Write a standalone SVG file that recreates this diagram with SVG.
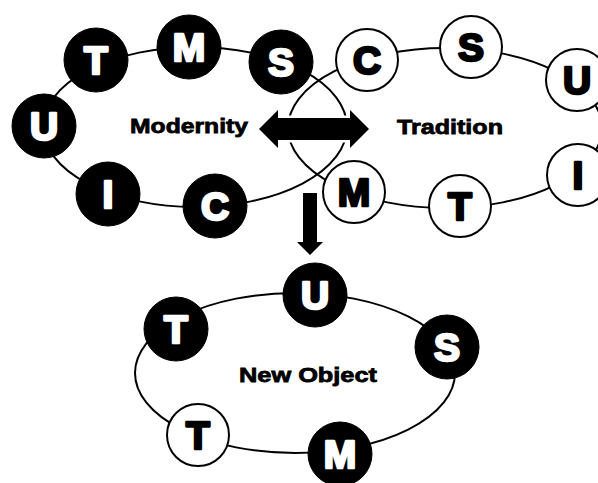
<svg xmlns="http://www.w3.org/2000/svg" width="598" height="483" viewBox="0 0 598 483">
<style>
.ring{fill:none;stroke:#000;stroke-width:2}
.blk{fill:#000;stroke:#000;stroke-width:1}
.wht{fill:#fff;stroke:#000;stroke-width:2}
.lw{font-family:"Liberation Sans",Arial,sans-serif;font-weight:bold;font-size:39px;fill:#fff;stroke:#fff;stroke-width:2.6;stroke-linejoin:round;text-anchor:middle}
.lb{font-family:"Liberation Sans",Arial,sans-serif;font-weight:bold;font-size:39px;fill:#000;stroke:#000;stroke-width:2.6;stroke-linejoin:round;text-anchor:middle}
.title{font-family:"Liberation Sans",Arial,sans-serif;font-weight:bold;font-size:21px;fill:#000;stroke:#000;stroke-width:0.8;text-anchor:middle}
.arrow{fill:#000;stroke:#fff;stroke-width:5;paint-order:stroke}
</style>
<rect width="598" height="483" fill="#fff"/>
<g id="connectors">
<ellipse class="ring" cx="195" cy="127" rx="152" ry="80"/>
<ellipse class="ring" cx="445" cy="128" rx="157" ry="80"/>
<ellipse class="ring" cx="295" cy="373" rx="160" ry="80"/>
<polygon class="arrow" points="259,129 278,110 278,118 350,118 350,110 369,129 350,148 350,140 278,140 278,148"/>
<polygon class="arrow" points="303,193 317,193 317,242 323,242 310,255 297,242 303,242"/>
</g>
<g id="label-modernity"><text class="title" x="189" y="133" textLength="118" lengthAdjust="spacingAndGlyphs">Modernity</text></g>
<g id="label-tradition"><text class="title" x="450" y="134" textLength="106" lengthAdjust="spacingAndGlyphs">Tradition</text></g>
<g id="label-newobject"><text class="title" x="308" y="382" textLength="138" lengthAdjust="spacingAndGlyphs">New Object</text></g>
<g id="m-U"><circle class="blk" cx="44" cy="126" r="32"/><text class="lw" x="44" y="140">U</text></g>
<g id="m-T"><circle class="blk" cx="96" cy="60" r="32"/><text class="lw" x="96" y="74">T</text></g>
<g id="m-M"><circle class="blk" cx="189" cy="47" r="32"/><text class="lw" x="189" y="61">M</text></g>
<g id="m-S"><circle class="blk" cx="281" cy="62" r="32"/><text class="lw" x="281" y="76">S</text></g>
<g id="m-I"><circle class="blk" cx="108" cy="194" r="32"/><text class="lw" x="108" y="208">I</text></g>
<g id="m-C"><circle class="blk" cx="215" cy="206" r="32"/><text class="lw" x="215" y="220">C</text></g>
<g id="t-C"><circle class="wht" cx="367" cy="60" r="31"/><text class="lb" x="367" y="74">C</text></g>
<g id="t-S"><circle class="wht" cx="471" cy="47" r="31"/><text class="lb" x="471" y="61">S</text></g>
<g id="t-U"><circle class="wht" cx="577" cy="80" r="31"/><text class="lb" x="577" y="94">U</text></g>
<g id="t-I"><circle class="wht" cx="578" cy="175" r="31"/><text class="lb" x="578" y="189">I</text></g>
<g id="t-T"><circle class="wht" cx="460" cy="206" r="31"/><text class="lb" x="460" y="220">T</text></g>
<g id="t-M"><circle class="wht" cx="354" cy="192" r="31"/><text class="lb" x="354" y="206">M</text></g>
<g id="n-T1"><circle class="blk" cx="176" cy="329" r="32"/><text class="lw" x="176" y="343">T</text></g>
<g id="n-U"><circle class="blk" cx="315" cy="295" r="32"/><text class="lw" x="315" y="309">U</text></g>
<g id="n-S"><circle class="blk" cx="447" cy="347" r="32"/><text class="lw" x="447" y="361">S</text></g>
<g id="n-M"><circle class="blk" cx="340" cy="454" r="32"/><text class="lw" x="340" y="468">M</text></g>
<g id="n-T2"><circle class="wht" cx="198" cy="435" r="31"/><text class="lb" x="198" y="449">T</text></g>
</svg>
